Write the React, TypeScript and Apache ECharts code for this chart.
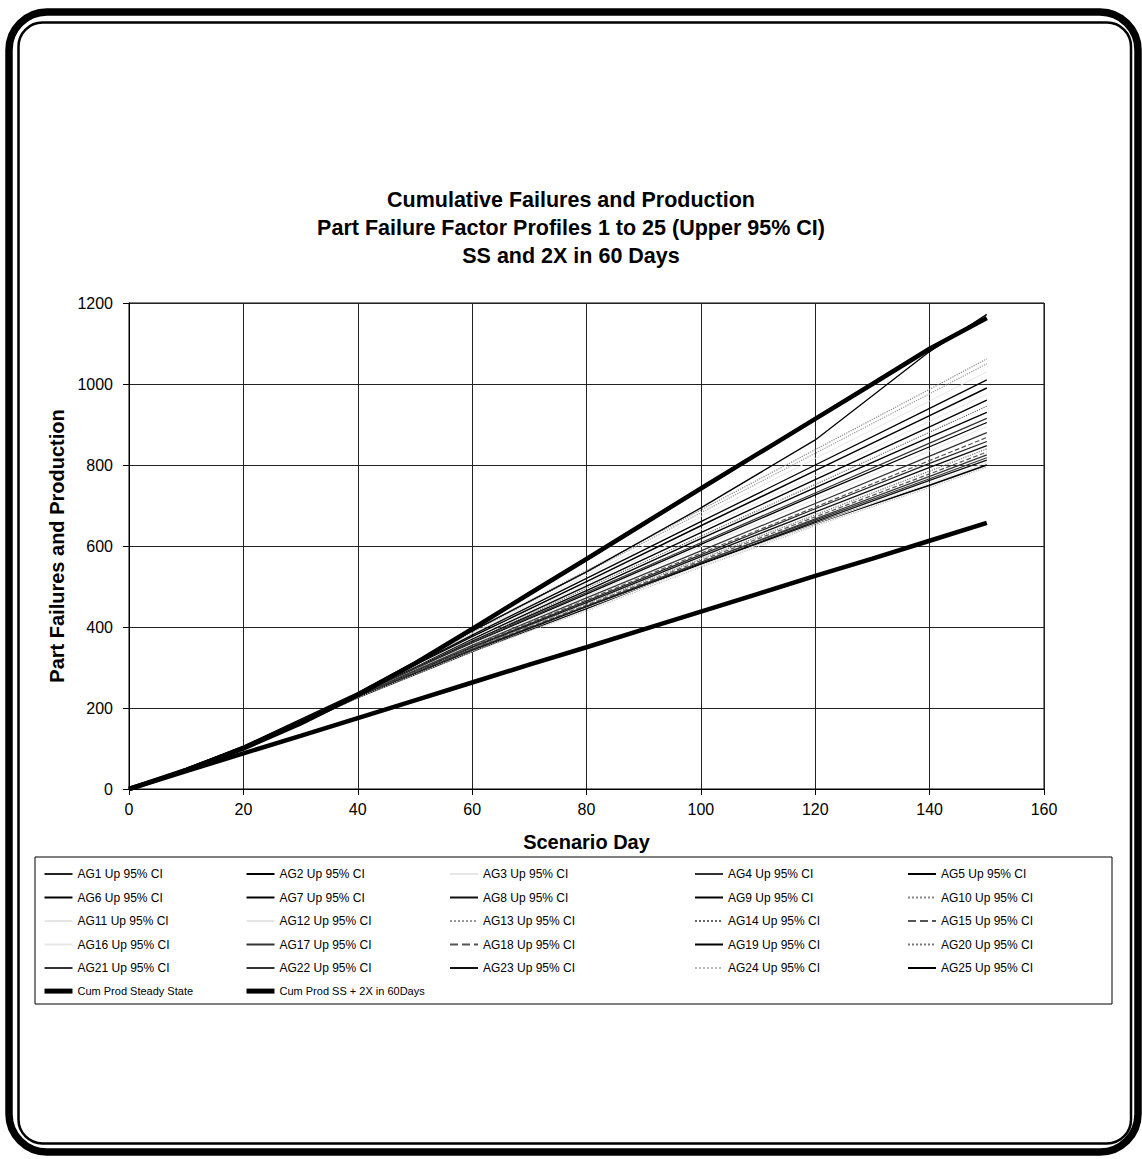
import React, { useEffect, useRef } from "react";
import * as echarts from "echarts";

const titleLines = [
  "Cumulative Failures and Production",
  "Part Failure Factor Profiles 1 to 25 (Upper 95% CI)",
  "SS and 2X in 60 Days",
];
const xTitle = "Scenario Day";
const yTitle = "Part Failures and Production";

const prodDays = [0, 10, 20, 30, 40, 50, 60, 70, 80, 90, 100, 110, 120, 130, 140, 150];
const ssValues = [0, 44, 88, 131, 175, 219, 263, 307, 350, 394, 438, 482, 526, 569, 613, 657];
const ss2xValues = [0, 47, 100, 162, 232, 310, 395, 482, 568, 655, 742, 828, 914, 1000, 1087, 1163];
const ssName = "Cum Prod Steady State";
const ss2xName = "Cum Prod SS + 2X in 60Days";

const agDays = [0, 10, 20, 30, 40, 60, 80, 100, 120, 140, 150];
const agNames = Array.from({ length: 25 }, (_, i) => `AG${i + 1} Up 95% CI`);
const agValues: number[][] = [
  [0, 49, 102, 165, 230, 351, 464, 578, 692, 804, 858],
  [0, 50, 104, 168, 233, 365, 490, 618, 744, 869, 930],
  [0, 51, 105, 169, 234, 384, 527, 673, 816, 958, 1030],
  [0, 48, 101, 164, 228, 343, 452, 560, 664, 766, 818],
  [0, 50, 103, 167, 232, 376, 512, 650, 786, 922, 990],
  [0, 49, 103, 166, 231, 360, 481, 604, 726, 845, 905],
  [0, 50, 104, 168, 233, 370, 501, 633, 764, 894, 960],
  [0, 49, 102, 165, 229, 349, 460, 574, 684, 794, 848],
  [0, 48, 100, 162, 226, 340, 446, 556, 656, 750, 800],
  [0, 51, 106, 170, 236, 390, 539, 689, 838, 987, 1062],
  [0, 50, 104, 168, 233, 373, 507, 641, 774, 908, 975],
  [0, 49, 102, 166, 231, 358, 477, 598, 716, 835, 895],
  [0, 51, 105, 170, 235, 387, 535, 682, 829, 976, 1050],
  [0, 50, 103, 167, 232, 367, 496, 624, 752, 881, 945],
  [0, 49, 101, 164, 229, 346, 454, 564, 672, 778, 832],
  [0, 48, 100, 163, 227, 341, 448, 552, 655, 755, 806],
  [0, 50, 103, 167, 232, 362, 485, 608, 731, 854, 915],
  [0, 49, 102, 165, 230, 353, 467, 582, 696, 811, 868],
  [0, 51, 105, 169, 234, 380, 520, 660, 800, 940, 1010],
  [0, 49, 102, 165, 229, 348, 457, 568, 677, 785, 840],
  [0, 48, 101, 164, 228, 345, 451, 560, 667, 772, 825],
  [0, 49, 103, 166, 230, 355, 472, 588, 705, 822, 880],
  [0, 48, 100, 163, 227, 342, 450, 556, 660, 762, 812],
  [0, 48, 100, 162, 226, 339, 440, 548, 650, 744, 795],
  [0, 50, 106, 172, 238, 390, 536, 694, 862, 1080, 1172],
];

// line styles per AG series (color, type, width)
const agStyles: [string, string, number][] = [
  ["#222", "solid", 1.2], ["#000", "solid", 1.3], ["#e6e6e6", "solid", 1], ["#333", "solid", 1.2], ["#000", "solid", 1.5],
  ["#000", "solid", 1.3], ["#000", "solid", 1.3], ["#111", "solid", 1.3], ["#000", "solid", 1.8], ["#888", "dotted", 1.2],
  ["#e6e6e6", "solid", 1], ["#e6e6e6", "solid", 1], ["#999", "dotted", 1.2], ["#666", "dotted", 1.2], ["#555", "dashed", 1.2],
  ["#e6e6e6", "solid", 1], ["#333", "solid", 1.2], ["#555", "dashed", 1.2], ["#000", "solid", 1.3], ["#777", "dotted", 1.2],
  ["#333", "solid", 1.2], ["#333", "solid", 1.2], ["#111", "solid", 1.3], ["#bbb", "dotted", 1.2], ["#000", "solid", 1.3],
];

const FONT = "'Liberation Sans', Arial, sans-serif";

const legendColumns = [
  { left: 42, names: [0, 5, 10, 15, 20].map((i) => agNames[i]).concat([ssName]) },
  { left: 244, names: [1, 6, 11, 16, 21].map((i) => agNames[i]).concat([ss2xName]) },
  { left: 449, names: [2, 7, 12, 17, 22].map((i) => agNames[i]) },
  { left: 694, names: [3, 8, 13, 18, 23].map((i) => agNames[i]) },
  { left: 907, names: [4, 9, 14, 19, 24].map((i) => agNames[i]) },
];

export default function App() {
  const ref = useRef<HTMLDivElement>(null);
  useEffect(() => {
    const chart = echarts.init(ref.current!, null, { renderer: "svg" });
    const agSeries = agValues.map((vals, k) => ({
      name: agNames[k],
      type: "line",
      symbol: "none",
      silent: true,
      z: 2,
      data: agDays.map((d, i) => [d, vals[i]]),
      lineStyle: { color: agStyles[k][0], type: agStyles[k][1], width: agStyles[k][2] },
      itemStyle: { color: agStyles[k][0], opacity: 0 },
    }));
    const option: any = {
      animation: false,
      backgroundColor: "#fff",
      textStyle: { fontFamily: FONT },
      title: {
        text: titleLines.join("\n"),
        left: "center",
        top: 181,
        textStyle: { fontSize: 21.5, fontWeight: "bold", color: "#000", lineHeight: 28, fontFamily: FONT },
      },
      grid: { left: 129, right: 98, top: 303, bottom: 370, show: true, borderColor: "#000", borderWidth: 1 },
      xAxis: {
        type: "value",
        min: 0,
        max: 160,
        interval: 20,
        name: xTitle,
        nameLocation: "middle",
        nameGap: 43,
        nameTextStyle: { fontSize: 20, fontWeight: "bold", color: "#000", fontFamily: FONT },
        axisLine: { show: true, lineStyle: { color: "#000", width: 1 } },
        axisTick: { show: true, length: 6, lineStyle: { color: "#000" } },
        axisLabel: { fontSize: 16, color: "#000", margin: 12, fontFamily: FONT },
        splitLine: { show: true, lineStyle: { color: "#222", width: 1 } },
      },
      yAxis: {
        type: "value",
        min: 0,
        max: 1200,
        interval: 200,
        name: yTitle,
        nameLocation: "middle",
        nameGap: 62,
        nameTextStyle: { fontSize: 20, fontWeight: "bold", color: "#000", fontFamily: FONT },
        axisLine: { show: true, lineStyle: { color: "#000", width: 1 } },
        axisTick: { show: true, length: 6, lineStyle: { color: "#000" } },
        axisLabel: { fontSize: 16, color: "#000", margin: 16, fontFamily: FONT, formatter: (v: number) => String(v) },
        splitLine: { show: true, lineStyle: { color: "#222", width: 1 } },
      },
      legend: legendColumns.map((col) => ({
        orient: "vertical",
        left: col.left,
        top: 868,
        padding: 0,
        itemWidth: 28,
        itemHeight: 14,
        itemGap: 11.5,
        selectedMode: false,
        itemStyle: { opacity: 0 },
        textStyle: { fontSize: 12, color: "#000", fontFamily: FONT },
        data: col.names.map((n) =>
          n === ssName || n === ss2xName
            ? { name: n, textStyle: { fontSize: 11 }, lineStyle: { width: 5, color: "#000" } }
            : { name: n }
        ),
      })),
      graphic: [
        {
          type: "rect",
          shape: { x: 35, y: 857, width: 1077, height: 147 },
          style: { fill: "none", stroke: "#000", lineWidth: 1 },
          silent: true,
        },
        {
          type: "rect",
          shape: { x: 9, y: 12, width: 1129, height: 1140, r: 38 },
          style: { fill: "none", stroke: "#000", lineWidth: 7.5 },
          silent: true,
        },
        {
          type: "rect",
          shape: { x: 18.5, y: 22.5, width: 1112.5, height: 1121, r: 24 },
          style: { fill: "none", stroke: "#000", lineWidth: 2.5 },
          silent: true,
        },
      ],
      series: [
        ...agSeries,
        {
          name: ssName,
          type: "line",
          symbol: "none",
          silent: true,
          z: 3,
          data: prodDays.map((d, i) => [d, ssValues[i]]),
          lineStyle: { color: "#000", width: 4.5 },
          itemStyle: { color: "#000", opacity: 0 },
        },
        {
          name: ss2xName,
          type: "line",
          symbol: "none",
          silent: true,
          z: 3,
          data: prodDays.map((d, i) => [d, ss2xValues[i]]),
          lineStyle: { color: "#000", width: 4.5 },
          itemStyle: { color: "#000", opacity: 0 },
        },
      ],
    };
    chart.setOption(option);
    return () => chart.dispose();
  }, []);
  return (
    <div
      ref={ref}
      style={{ position: "absolute", left: 0, top: 0, width: 1142, height: 1159, background: "#fff" }}
    />
  );
}
